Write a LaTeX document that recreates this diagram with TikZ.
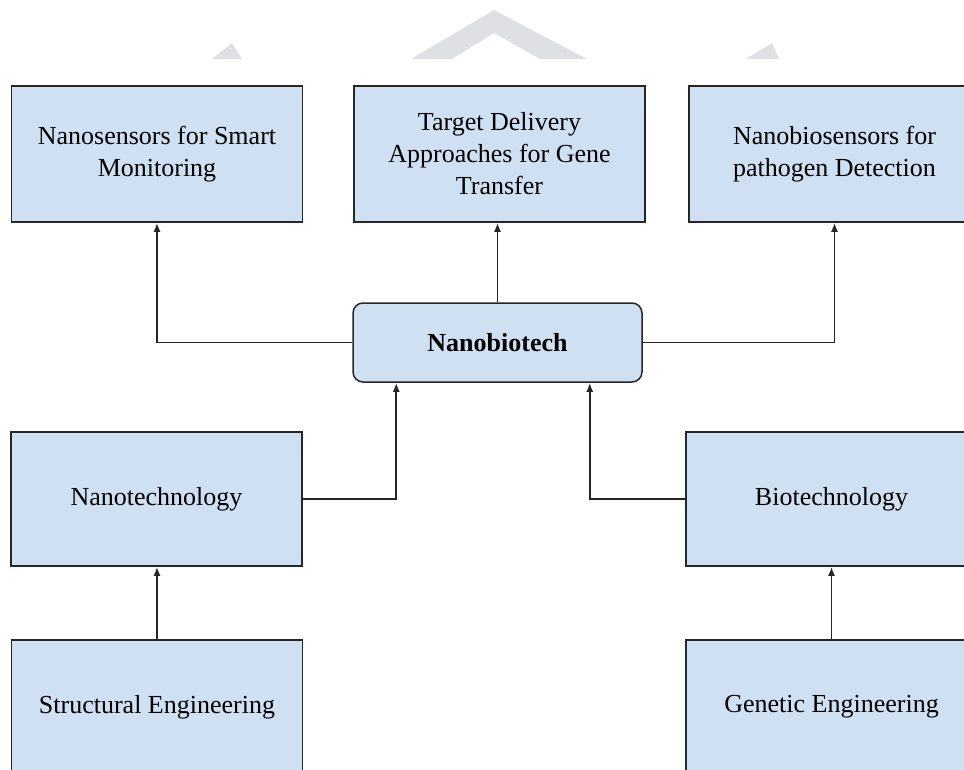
\documentclass[tikz,border=0pt]{standalone}
\usepackage{fontspec}
\setmainfont{Liberation Serif}
\usetikzlibrary{arrows.meta}
\definecolor{boxblue}{RGB}{207,224,242}
\definecolor{markgray}{RGB}{222,224,227}
\begin{document}
\begin{tikzpicture}[x=1pt, y=-1pt,
    box/.style={draw=black!85, fill=boxblue, line width=1.5pt, minimum width=291pt, minimum height=136pt, align=center, inner sep=6pt, font=\fontsize{26}{32}\selectfont},
    hub/.style={box, rounded corners=10pt, minimum width=289pt, minimum height=79pt, font=\fontsize{26}{32}\selectfont\bfseries},
    link/.style={draw=black!85, line width=1.8pt, -{Latex[length=9pt,width=7pt]}}]
    \useasboundingbox (0,0) rectangle (964,769);
    \clip (0,0) rectangle (964,769);

    % Faint mark at the top
    \fill[markgray] (411,59) -- (494,10) -- (587,59) -- (540,59) -- (494,33) -- (452,59) -- cycle;
    \fill[markgray] (212,59) -- (232,43) -- (242,59) -- cycle;
    \fill[markgray] (746,59) -- (772,43) -- (779,59) -- cycle;

    % Top row
    \node[box] (smart) at (157,154) {Nanosensors for Smart\\Monitoring};
    \node[box] (gene) at (499.5,154) {Target Delivery\\Approaches for Gene\\Transfer};
    \node[box] (pathogen) at (834.5,154) {Nanobiosensors for\\pathogen Detection};

    % Centre
    \node[hub] (nanobio) at (497.5,342.5) {Nanobiotech};

    % Middle row
    \node[box, minimum height=134pt] (nanotech) at (156.5,499) {Nanotechnology};
    \node[box, minimum height=134pt] (biotech) at (831.5,499) {Biotechnology};

    % Bottom row
    \node[box, minimum height=134pt] (structural) at (157,707) {Structural Engineering};
    \node[box, minimum height=134pt] (genetic) at (831.5,707) {Genetic Engineering};

    % Connections
    \draw[link] (nanobio.west) -| (smart.south);
    \draw[link] (nanobio.north) -- (nanobio.north |- gene.south);
    \draw[link] (nanobio.east) -| (pathogen.south);
    \draw[link] (nanotech.east) -| ([xshift=44pt]nanobio.south west);
    \draw[link] (biotech.west) -| ([xshift=-53pt]nanobio.south east);
    \draw[link] (structural.north) -- (structural.north |- nanotech.south);
    \draw[link] (genetic.north) -- (genetic.north |- biotech.south);
\end{tikzpicture}
\end{document}
